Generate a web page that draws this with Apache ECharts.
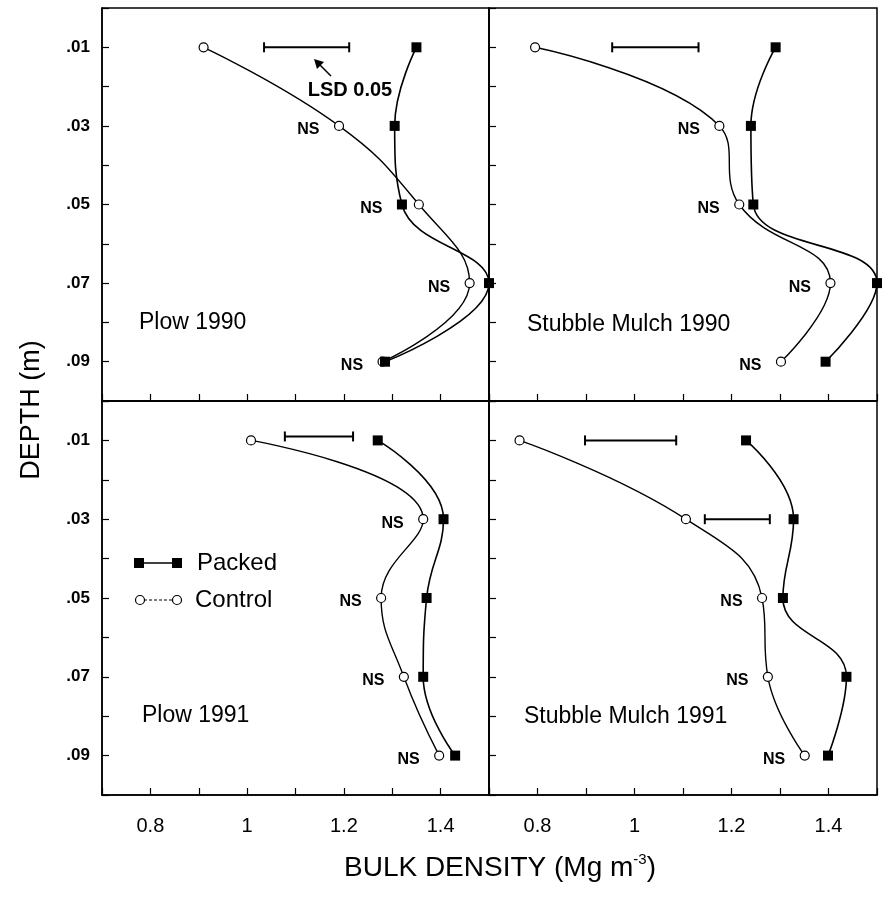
<!DOCTYPE html>
<html>
<head>
<meta charset="utf-8">
<script src="https://cdn.jsdelivr.net/npm/echarts@6/dist/echarts.min.js"></script>
<style>
  html, body { margin: 0; padding: 0; background: #fff; }
  #chart { width: 886px; height: 899px; }
</style>
</head>
<body>
<div id="chart"></div>
<script>
// depth of each sampling layer (m)
const depths = [0.01, 0.03, 0.05, 0.07, 0.09]

// bulk density (Mg m-3)
const plow90Control = [0.91, 1.19, 1.355, 1.46, 1.28]
const plow90Packed = [1.35, 1.305, 1.32, 1.5, 1.285]
const mulch90Control = [0.795, 1.175, 1.216, 1.404, 1.302]
const mulch90Packed = [1.291, 1.24, 1.245, 1.5, 1.394]
const plow91Control = [1.008, 1.364, 1.277, 1.324, 1.397]
const plow91Packed = [1.27, 1.406, 1.371, 1.364, 1.43]
const mulch91Control = [0.763, 1.106, 1.263, 1.275, 1.351]
const mulch91Packed = [1.23, 1.328, 1.306, 1.437, 1.399]

// LSD 0.05 bars: [from, to, depth]
const plow90Lsd = [[1.035, 1.211, 0.01]]
const mulch90Lsd = [[0.954, 1.132, 0.01]]
const plow91Lsd = [[1.078, 1.219, 0.009]]
const mulch91Lsd = [[0.898, 1.086, 0.01], [1.145, 1.279, 0.03]]

// depths marked "NS"
const plow90Ns = [0.03, 0.05, 0.07, 0.09]
const mulch90Ns = [0.03, 0.05, 0.07, 0.09]
const plow91Ns = [0.03, 0.05, 0.07, 0.09]
const mulch91Ns = [0.05, 0.07, 0.09]

const xTickLabels = ["0.8", "1", "1.2", "1.4"]
const yTickLabels = [".01", ".03", ".05", ".07", ".09"]

const panels = [
  { name: "Plow 1990", control: plow90Control, packed: plow90Packed, lsd: plow90Lsd, ns: plow90Ns },
  { name: "Stubble Mulch 1990", control: mulch90Control, packed: mulch90Packed, lsd: mulch90Lsd, ns: mulch90Ns },
  { name: "Plow 1991", control: plow91Control, packed: plow91Packed, lsd: plow91Lsd, ns: plow91Ns },
  { name: "Stubble Mulch 1991", control: mulch91Control, packed: mulch91Packed, lsd: mulch91Lsd, ns: mulch91Ns }
]

const FONT = "'Liberation Sans', Arial, Helvetica, sans-serif"
const grids = [
  { left: 102, top: 8, width: 387, height: 393 },
  { left: 489, top: 8, width: 388, height: 393 },
  { left: 102, top: 401, width: 387, height: 394 },
  { left: 489, top: 401, width: 388, height: 394 }
]

const xAxes = [], yAxes = [], series = []
panels.forEach((p, i) => {
  xAxes.push({
    gridIndex: i, type: "value", position: "bottom", min: 0.7, max: 1.5, interval: 0.1,
    axisLine: { show: true, onZero: false, lineStyle: { color: "#000", width: 1.5 } },
    axisTick: { inside: true, length: 7, lineStyle: { color: "#000", width: 1.2 } },
    splitLine: { show: false },
    axisLabel: {
      show: i >= 2, margin: 21, color: "#000", fontSize: 20, fontFamily: FONT,
      formatter: (v) => {
        const s = String(Math.round(v * 10) / 10)
        return xTickLabels.indexOf(s) >= 0 ? s : ""
      }
    }
  })
  yAxes.push({
    gridIndex: i, type: "value", position: "left", inverse: true, min: 0, max: 0.1, interval: 0.01,
    axisLine: { show: true, onZero: false, lineStyle: { color: "#000", width: 1.5 } },
    axisTick: { inside: true, length: 7, lineStyle: { color: "#000", width: 1.2 } },
    splitLine: { show: false },
    axisLabel: {
      show: i % 2 === 0, margin: 12, color: "#000", fontSize: 17, fontWeight: "bold", fontFamily: FONT,
      formatter: (v) => {
        const s = "." + String(Math.round(v * 100)).padStart(2, "0")
        return yTickLabels.indexOf(s) >= 0 ? s : ""
      }
    }
  })

  series.push({
    type: "line", xAxisIndex: i, yAxisIndex: i, smooth: 0.45,
    data: depths.map((d, k) => [p.control[k], d]),
    symbol: "circle", symbolSize: 9,
    itemStyle: { color: "#fff", borderColor: "#000", borderWidth: 1.2 },
    lineStyle: { color: "#000", width: 1.4 },
    z: 3
  })
  series.push({
    type: "line", xAxisIndex: i, yAxisIndex: i, smooth: 0.45,
    data: depths.map((d, k) => [p.packed[k], d]),
    symbol: "rect", symbolSize: 10,
    itemStyle: { color: "#000" },
    lineStyle: { color: "#000", width: 1.6 },
    z: 4
  })
  p.lsd.forEach((b) => {
    series.push({
      type: "line", xAxisIndex: i, yAxisIndex: i,
      data: [[b[0], b[2]], [b[1], b[2]]],
      symbol: "rect", symbolSize: [2, 10],
      itemStyle: { color: "#000" },
      lineStyle: { color: "#000", width: 2 },
      z: 2
    })
  })
  series.push({
    type: "scatter", xAxisIndex: i, yAxisIndex: i,
    data: p.ns.map((d) => {
      const k = depths.indexOf(d)
      return [Math.min(p.control[k], p.packed[k]), d]
    }),
    symbolSize: 9,
    itemStyle: { color: "rgba(0,0,0,0)" },
    label: {
      show: true, position: "left", distance: 15, offset: [0, 4], opacity: 1,
      formatter: "NS", color: "#000", textBorderWidth: 0,
      fontSize: 16, fontWeight: "bold", fontFamily: FONT
    },
    z: 5
  })
})

const panelTextPos = [[139, 323], [527, 325], [142, 716], [524, 717]]
const graphic = panels.map((p, i) => ({
  type: "text", x: panelTextPos[i][0], y: panelTextPos[i][1],
  style: { text: p.name, font: "23px " + FONT, fill: "#000", textVerticalAlign: "middle" }
}))

// LSD label with arrow (top-left panel)
graphic.push(
  { type: "text", x: 350, y: 90, style: { text: "LSD 0.05", font: "bold 20px " + FONT, fill: "#000", textAlign: "center", textVerticalAlign: "middle" } },
  { type: "line", shape: { x1: 331, y1: 76, x2: 318, y2: 63 }, style: { stroke: "#000", lineWidth: 1.5 } },
  { type: "polygon", shape: { points: [[314, 59], [324, 62], [317, 69]] }, style: { fill: "#000" } }
)

// legend (bottom-left panel)
graphic.push(
  { type: "line", shape: { x1: 139, y1: 563, x2: 177, y2: 563 }, style: { stroke: "#000", lineWidth: 1.6 } },
  { type: "rect", shape: { x: 134, y: 558, width: 10, height: 10 }, style: { fill: "#000" } },
  { type: "rect", shape: { x: 172, y: 558, width: 10, height: 10 }, style: { fill: "#000" } },
  { type: "text", x: 197, y: 563, style: { text: "Packed", font: "24px " + FONT, fill: "#000", textVerticalAlign: "middle" } },
  { type: "line", shape: { x1: 144, y1: 600, x2: 173, y2: 600 }, style: { stroke: "#000", lineWidth: 1.2, lineDash: [3, 2] } },
  { type: "circle", shape: { cx: 140, cy: 600, r: 4.5 }, style: { fill: "#fff", stroke: "#000", lineWidth: 1.2 } },
  { type: "circle", shape: { cx: 177, cy: 600, r: 4.5 }, style: { fill: "#fff", stroke: "#000", lineWidth: 1.2 } },
  { type: "text", x: 195, y: 600, style: { text: "Control", font: "24px " + FONT, fill: "#000", textVerticalAlign: "middle" } }
)

// axis titles
graphic.push(
  { type: "text", x: 32, y: 410, rotation: Math.PI / 2, style: { text: "DEPTH (m)", font: "27px " + FONT, fill: "#000", textAlign: "center", textVerticalAlign: "middle" } },
  {
    type: "text", x: 500, y: 868,
    style: {
      text: "{a|BULK DENSITY (Mg m}{s|-3}{a|)}", textAlign: "center", textVerticalAlign: "middle", fill: "#000",
      rich: {
        a: { fontSize: 28, fontFamily: FONT, lineHeight: 32, color: "#000" },
        s: { fontSize: 15, fontFamily: FONT, lineHeight: 32, verticalAlign: "top", color: "#000" }
      }
    }
  }
)

const chart = echarts.init(document.getElementById("chart"), null, { renderer: "canvas" })
chart.setOption({
  backgroundColor: "#fff",
  animation: false,
  grid: grids.map((g) => Object.assign({ show: true, borderColor: "#000", borderWidth: 1.5, backgroundColor: "transparent" }, g)),
  xAxis: xAxes,
  yAxis: yAxes,
  series: series,
  graphic: graphic
})
</script>
</body>
</html>
